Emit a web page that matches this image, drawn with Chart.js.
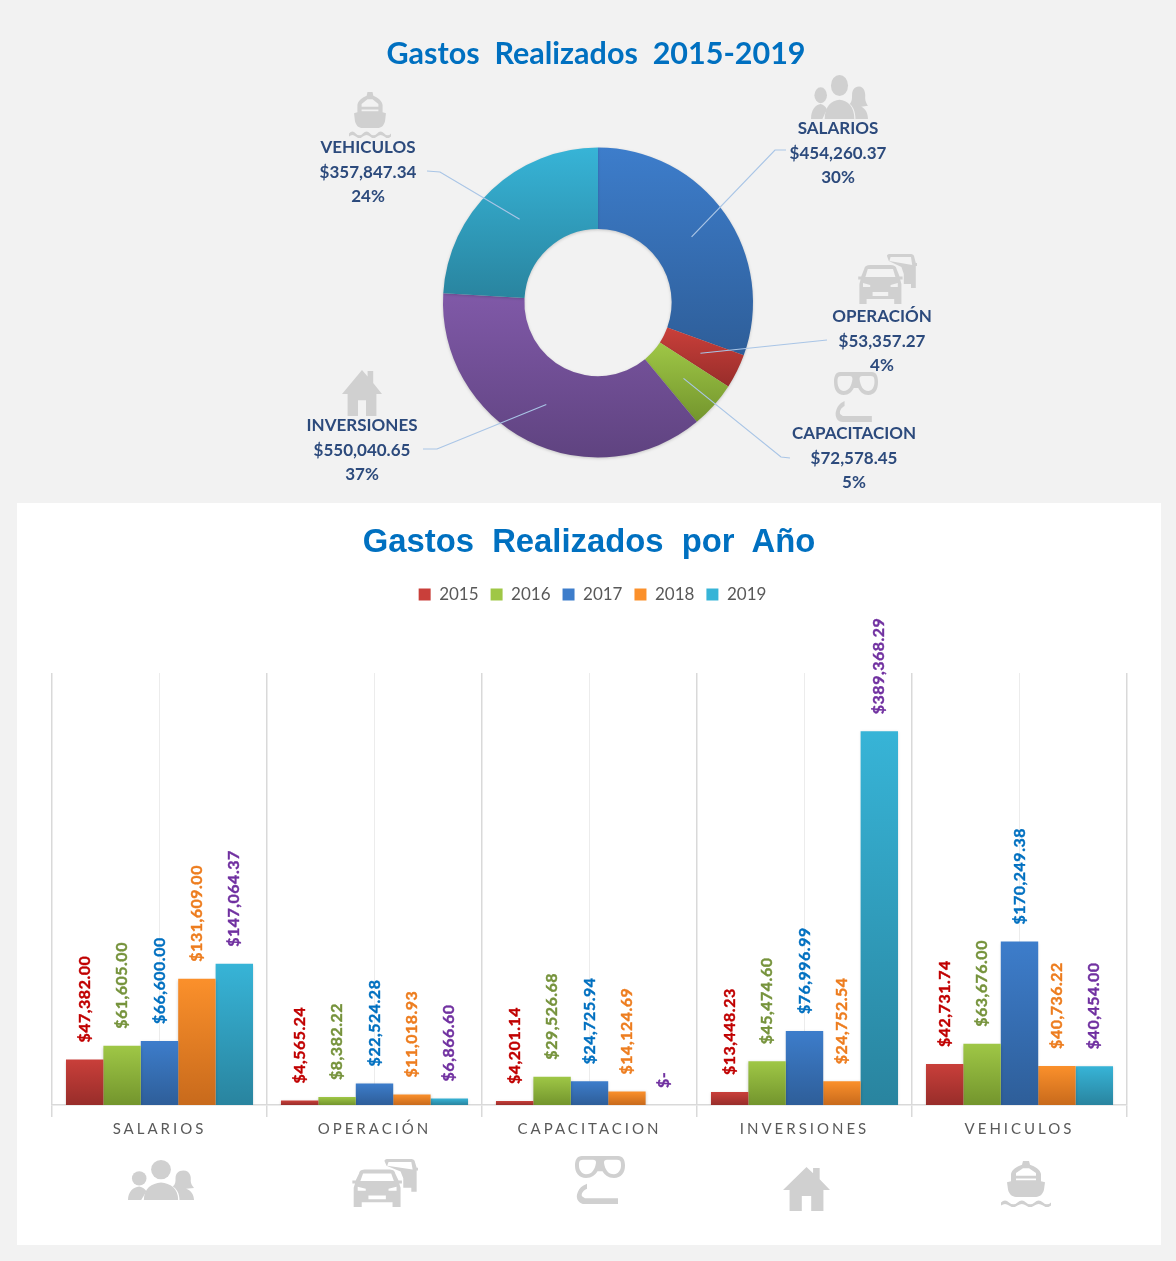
<!DOCTYPE html>
<html>
<head>
<meta charset="utf-8">
<title>Gastos Realizados</title>
<script src="https://cdn.jsdelivr.net/npm/chart.js@4/dist/chart.umd.js"></script>
<style>
	html, body { margin: 0; padding: 0; background: #f2f2f2; }
	#page { position: relative; width: 1176px; height: 1261px; overflow: hidden; background: #f2f2f2; }
	#panel { position: absolute; left: 17px; top: 503px; width: 1144px; height: 742px; background: #fff; }
	#pie-wrap { position: absolute; left: 0; top: 0; width: 1176px; height: 503px; }
	#bar-wrap { position: absolute; left: 17px; top: 503px; width: 1144px; height: 742px; }
	.title { position: absolute; transform: translateX(-50%); white-space: pre; color: #0070c0; font-weight: bold; }
	#title-pie { left: 596px; top: 34px; font: bold 30.5px Lato, sans-serif; }
	#title-bar { left: 589px; top: 522px; font: bold 32.8px "Liberation Sans", sans-serif; }
	.icon { position: absolute; fill: #d0d0d0; }
</style>
</head>
<body>
<div id="page">
	<svg width="0" height="0" style="position:absolute">
		<symbol id="i-people" viewBox="0 0 100 100" preserveAspectRatio="none">
			<ellipse cx="50" cy="24" rx="15" ry="24"/>
			<path d="M24 100 C24 70 36 58 50 56 C64 58 76 70 76 100 Z"/>
			<ellipse cx="17" cy="46" rx="11" ry="18"/>
			<path d="M0 100 C0 78 8 68 17 66 C22 68 26 72 28 78 L20 100 Z"/>
			<path d="M84 26 C94 26 96 42 95 52 C95 60 98 66 100 70 L88 72 C96 76 100 88 100 100 L78 100 C78 84 74 72 68 66 C72 60 72 54 72 46 C72 34 76 26 84 26 Z"/>
		</symbol>
		<symbol id="i-cars" viewBox="0 0 100 100" preserveAspectRatio="none">
			<path fill-rule="evenodd" d="M12 30 C13 24 16 22 22 22 L56 22 C62 22 65 24 66 30 L71 45 L76 45 L76 51 L72 51 L74 60 L74 100 L62 100 L62 90 L16 90 L16 100 L4 100 L4 60 L6 51 L2 51 L2 45 L7 45 Z M18 30 L14 46 L64 46 L60 30 Z M10 58 L10 66 L22 66 L22 62 Z M68 58 L56 62 L56 66 L68 66 Z M26 76 L26 84 L52 84 L52 76 Z"/>
			<path fill-rule="evenodd" d="M50 4 C50 1 52 0 56 0 L88 0 C92 0 94 1 95 4 L98 18 L100 18 L100 24 L98 24 L98 68 L90 68 L90 60 L78 60 L78 40 L74 26 L53 14 Z M56 6 L54 14 L92 22 L90 6 Z"/>
		</symbol>
		<symbol id="i-mask" viewBox="0 0 100 100" preserveAspectRatio="none">
			<path fill-rule="evenodd" d="M14 0 L86 0 C96 0 100 8 100 20 C100 36 92 46 78 46 C66 46 60 40 55 32 L45 32 C40 40 34 46 22 46 C8 46 0 36 0 20 C0 8 4 0 14 0 Z M16 8 C8 8 8 14 8 20 C8 30 14 38 22 38 C34 38 40 28 42 14 C42 10 40 8 36 8 Z M64 8 C60 8 58 10 58 14 C60 28 66 38 78 38 C86 38 92 30 92 20 C92 14 92 8 84 8 Z"/>
			<path d="M16 62 L24 58 L24 68 C16 72 12 78 14 84 L20 88 L86 88 L86 100 L20 100 C8 100 2 90 4 80 C6 72 10 66 16 62 Z"/>
		</symbol>
		<symbol id="i-house" viewBox="0 0 100 100" preserveAspectRatio="none">
			<path fill-rule="evenodd" d="M50 0 L64 14 L64 2 L78 2 L78 28 L100 52 L86 52 L86 100 L60 100 L60 66 L40 66 L40 100 L14 100 L14 52 L0 52 Z"/>
		</symbol>
		<symbol id="i-ship" viewBox="0 0 100 100" preserveAspectRatio="none">
			<path fill-rule="evenodd" d="M44 0 L56 0 L58 8 C68 12 78 18 80 28 L80 44 L88 46 L86 62 C84 72 78 78 70 78 L30 78 C22 78 16 72 14 62 L12 46 L20 44 L20 28 C22 18 32 12 42 8 Z M30 26 L30 32 L70 32 L70 26 L56 16 L44 16 Z M30 38 L30 42 L70 42 L70 38 Z"/>
			<path d="M0 90 Q8 82 16 90 Q25 98 33 90 Q42 82 50 90 Q58 98 67 90 Q75 82 84 90 Q92 98 100 90 L100 97 Q92 104 84 97 Q75 90 67 97 Q58 104 50 97 Q42 90 33 97 Q25 104 16 97 Q8 90 0 97 Z"/>
		</symbol>
	</svg>
	<div id="panel"></div>
	<div id="pie-wrap"><canvas id="chart-pie" width="1176" height="503"></canvas></div>
	<div id="bar-wrap"><canvas id="chart-bar" width="1144" height="742"></canvas></div>
	<div class="title" id="title-pie">Gastos  Realizados  2015-2019</div>
	<div class="title" id="title-bar">Gastos  Realizados  por  Año</div>
	<svg class="icon" style="left:811px;top:75px;width:57px;height:44px"><use href="#i-people" width="57" height="44"/></svg>
	<svg class="icon" style="left:857px;top:254px;width:60px;height:50px"><use href="#i-cars" width="60" height="50"/></svg>
	<svg class="icon" style="left:834px;top:372px;width:44px;height:50px"><use href="#i-mask" width="44" height="50"/></svg>
	<svg class="icon" style="left:342px;top:370px;width:40px;height:46px"><use href="#i-house" width="40" height="46"/></svg>
	<svg class="icon" style="left:349px;top:92px;width:42px;height:46px"><use href="#i-ship" width="42" height="46"/></svg>
	<svg class="icon" style="left:128px;top:1160px;width:66px;height:40px"><use href="#i-people" width="66" height="40"/></svg>
	<svg class="icon" style="left:351px;top:1159px;width:67px;height:48px"><use href="#i-cars" width="67" height="48"/></svg>
	<svg class="icon" style="left:575px;top:1156px;width:50px;height:48px"><use href="#i-mask" width="50" height="48"/></svg>
	<svg class="icon" style="left:783px;top:1167px;width:47px;height:44px"><use href="#i-house" width="47" height="44"/></svg>
	<svg class="icon" style="left:1001px;top:1161px;width:50px;height:46px"><use href="#i-ship" width="50" height="46"/></svg>
</div>
<script>
	const categories = ['SALARIOS', 'OPERACIÓN', 'CAPACITACION', 'INVERSIONES', 'VEHICULOS'];
	const years = ['2015', '2016', '2017', '2018', '2019'];

	const totals = [454260.37, 53357.27, 72578.45, 550040.65, 357847.34];
	const percents = ['30%', '4%', '5%', '37%', '24%'];

	const values2015 = [47382.00, 4565.24, 4201.14, 13448.23, 42731.74];
	const values2016 = [61605.00, 8382.22, 29526.68, 45474.60, 63676.00];
	const values2017 = [66600.00, 22524.28, 24725.94, 76996.99, 170249.38];
	const values2018 = [131609.00, 11018.93, 14124.69, 24752.54, 40736.22];
	const values2019 = [147064.37, 6866.60, 0, 389368.29, 40454.00];
	const yearValues = [values2015, values2016, values2017, values2018, values2019];

	// colours
	const sliceTop = ['#3d7dcb', '#c93f3a', '#9fc746', '#8059a8', '#37b4d7'];
	const sliceBottom = ['#2e5e99', '#982d2a', '#73952d', '#5f4380', '#29849f'];
	const barTop = ['#c93f3a', '#9fc746', '#3d7dcb', '#fb902b', '#37b4d7'];
	const barBottom = ['#982d2a', '#73952d', '#2e5e99', '#c86a1c', '#29849f'];
	const labelColors = ['#c00000', '#76933c', '#0070c0', '#ed7d1f', '#7030a0'];

	// where the donut labels sit: text centre, first line y, leader elbow and end
	const labelSpots = [
		{ x: 838, y: 129, elbow: [775, 150], end: [786, 150] },
		{ x: 882, y: 317, elbow: null, end: [827, 340] },
		{ x: 854, y: 434, elbow: [781, 457], end: [790, 458] },
		{ x: 362, y: 426, elbow: [437, 449], end: [423, 449] },
		{ x: 368, y: 148, elbow: [440, 172], end: [427, 171] }
	];

	const money = v => v === 0 ? '$-' : '$' + v.toLocaleString('en-US', { minimumFractionDigits: 2, maximumFractionDigits: 2 });

	// vertical extent of one donut slice, so each gets its own gradient
	function sliceExtent(chart, index) {
		const area = chart.chartArea;
		const cx = (area.left + area.right) / 2;
		const cy = (area.top + area.bottom) / 2;
		const outer = Math.min(area.width, area.height) / 2;
		const inner = outer * 0.475;
		const sum = totals.reduce((a, b) => a + b, 0);
		let start = 0;
		for (let i = 0; i < index; i++) start += totals[i] / sum * Math.PI * 2;
		const end = start + totals[index] / sum * Math.PI * 2;
		let top = Infinity, bottom = -Infinity;
		for (let s = 0; s <= 60; s++) {
			const a = start + (end - start) * s / 60;
			for (const r of [outer, inner]) {
				const y = cy - Math.cos(a) * r;
				top = Math.min(top, y);
				bottom = Math.max(bottom, y);
			}
		}
		return [top, bottom];
	}

	const softShadow = {
		id: 'softShadow',
		beforeDatasetDraw(chart) {
			chart.ctx.shadowColor = 'rgba(0,0,0,0.18)';
			chart.ctx.shadowBlur = 3;
			chart.ctx.shadowOffsetY = 1;
		},
		afterDatasetDraw(chart) {
			chart.ctx.shadowColor = 'transparent';
			chart.ctx.shadowBlur = 0;
			chart.ctx.shadowOffsetY = 0;
		}
	};

	const donutLabels = {
		id: 'donutLabels',
		afterDraw(chart) {
			const ctx = chart.ctx;
			const arcs = chart.getDatasetMeta(0).data;
			ctx.save();
			ctx.strokeStyle = '#a9c5e6';
			ctx.lineWidth = 1.2;
			labelSpots.forEach((spot, i) => {
				const p = arcs[i].getCenterPoint();
				ctx.beginPath();
				ctx.moveTo(p.x, p.y);
				if (spot.elbow) ctx.lineTo(spot.elbow[0], spot.elbow[1]);
				ctx.lineTo(spot.end[0], spot.end[1]);
				ctx.stroke();
			});
			ctx.fillStyle = '#2c4a7c';
			ctx.font = 'bold 17px Lato, sans-serif';
			ctx.textAlign = 'center';
			ctx.textBaseline = 'middle';
			labelSpots.forEach((spot, i) => {
				ctx.fillText(categories[i], spot.x, spot.y);
				ctx.fillText(money(totals[i]), spot.x, spot.y + 24.5);
				ctx.fillText(percents[i], spot.x, spot.y + 49);
			});
			ctx.restore();
		}
	};

	const barLabels = {
		id: 'barLabels',
		afterDatasetsDraw(chart) {
			const ctx = chart.ctx;
			chart.data.datasets.forEach((ds, d) => {
				chart.getDatasetMeta(d).data.forEach((bar, i) => {
					ctx.save();
					ctx.translate(bar.x, bar.y - 17);
					ctx.rotate(-Math.PI / 2);
					ctx.fillStyle = labelColors[d];
					ctx.strokeStyle = labelColors[d];
					ctx.lineWidth = 0.4;
					ctx.font = 'bold 16px Lato, sans-serif';
					ctx.letterSpacing = '0.5px';
					ctx.textAlign = 'left';
					ctx.textBaseline = 'middle';
					ctx.fillText(money(ds.data[i]), 0, 0);
					ctx.strokeText(money(ds.data[i]), 0, 0);
					ctx.restore();
				});
			});
		}
	};

	// the category names are widely spaced in the original
	const spacedTicks = {
		id: 'spacedTicks',
		afterUpdate(chart) {
			const scale = chart.scales.x;
			if (scale.spaced) return;
			const original = scale.drawLabels;
			scale.drawLabels = function (area) {
				chart.ctx.letterSpacing = '3px';
				original.call(this, area);
				chart.ctx.letterSpacing = '0px';
			};
			scale.spaced = true;
		}
	};

	// the legend sits a little right of the plot centre
	const legendNudge = {
		id: 'legendNudge',
		afterLayout(chart) {
			chart.legend.left += 3;
			chart.legend.right += 3;
		}
	};

	new Chart(document.getElementById('chart-pie').getContext('2d'), {
		type: 'doughnut',
		plugins: [softShadow, donutLabels],
		data: {
			labels: categories,
			datasets: [{
				data: totals,
				borderWidth: 0,
				backgroundColor: c => {
					if (c.type !== 'data' || !c.chart.chartArea) return sliceTop[c.dataIndex || 0];
					const ext = sliceExtent(c.chart, c.dataIndex);
					const g = c.chart.ctx.createLinearGradient(0, ext[0], 0, ext[1]);
					g.addColorStop(0, sliceTop[c.dataIndex]);
					g.addColorStop(1, sliceBottom[c.dataIndex]);
					return g;
				}
			}]
		},
		options: {
			responsive: false,
			animation: false,
			cutout: '47.5%',
			layout: { padding: { left: 443, right: 423, top: 147, bottom: 45 } },
			plugins: { legend: { display: false }, tooltip: { enabled: false } }
		}
	});

	new Chart(document.getElementById('chart-bar').getContext('2d'), {
		type: 'bar',
		plugins: [softShadow, barLabels, spacedTicks, legendNudge],
		data: {
			labels: categories,
			datasets: years.map((year, d) => ({
				label: year,
				data: yearValues[d],
				xAxisID: 'x',
				backgroundColor: c => {
					if (c.type !== 'data') return barTop[d];
					const y = c.chart.scales.y;
					const top = y.getPixelForValue(yearValues[d][c.dataIndex]);
					const base = y.getPixelForValue(0);
					// the first pass runs before the scale has been laid out
					if (!Number.isFinite(top) || !Number.isFinite(base)) return barTop[d];
					const g = c.chart.ctx.createLinearGradient(0, top, 0, base);
					g.addColorStop(0, barTop[d]);
					g.addColorStop(1, barBottom[d]);
					return g;
				},
				borderWidth: 0,
				barPercentage: 1,
				categoryPercentage: 0.87
			}))
		},
		options: {
			responsive: false,
			animation: false,
			layout: { padding: { left: 35, right: 34, top: 71, bottom: 0 } },
			scales: {
				x: {
					offset: true,
					grid: { offset: true, color: '#d9d9d9', lineWidth: 1.5, tickLength: 12, tickColor: '#d9d9d9' },
					border: { color: '#d9d9d9', width: 1.5 },
					ticks: { color: '#595959', font: { family: 'Lato', size: 15 }, padding: 3, maxRotation: 0, autoSkip: false },
					afterFit(scale) { scale.height = 140; }
				},
				x2: {
					type: 'category',
					position: 'top',
					offset: true,
					grid: { offset: false, color: '#ececec', drawTicks: false },
					border: { display: false },
					ticks: { display: false },
					afterFit(scale) { scale.height = 60; }
				},
				y: { display: false, min: 0, max: 450000, grid: { display: false } }
			},
			plugins: {
				tooltip: { enabled: false },
				legend: {
					position: 'top',
					labels: { boxWidth: 12, boxHeight: 12, padding: 12, color: '#595959', font: { family: 'Lato', size: 17 } }
				}
			}
		}
	});
</script>
</body>
</html>
